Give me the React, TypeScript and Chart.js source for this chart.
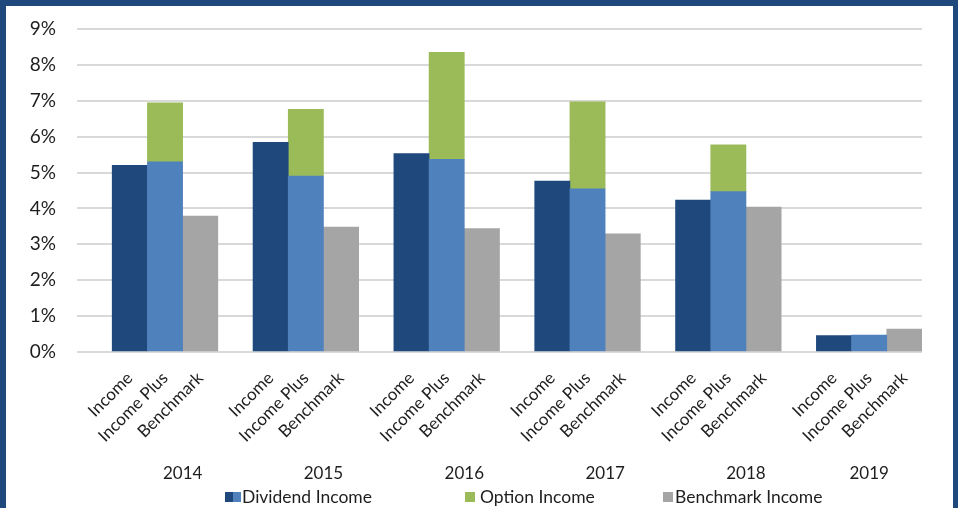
import React, { useEffect, useRef } from 'react';
import { Chart, registerables } from 'chart.js';

Chart.register(...registerables);

const years = ['2014', '2015', '2016', '2017', '2018', '2019'];
const subLabels = ['Income', 'Income Plus', 'Benchmark'];
const incomeDividend = [5.2, 5.84, 5.53, 4.76, 4.23, 0.46];
const plusDividend = [5.3, 4.9, 5.37, 4.55, 4.47, 0.47];
const plusOption = [1.64, 1.86, 2.98, 2.42, 1.3, 0];
const benchmark = [3.79, 3.48, 3.44, 3.29, 4.04, 0.64];
const yTickValues = [0, 1, 2, 3, 4, 5, 6, 7, 8, 9];

const DARK = '#1F497D';
const LIGHT = '#4F81BD';
const GREEN = '#9BBB59';
const GRAY = '#A5A5A5';
const TEXT = '#1E1E1E';
const FONT = 'Lato, "Open Sans", sans-serif';

// Slot layout: a leading blank, then each year's three bars followed by a blank (except the last year)
const slotLabels: string[] = [''];
const groupStart: number[] = [];
const groupEnd: number[] = [];
years.forEach((_, i) => {
  groupStart.push(slotLabels.length);
  slotLabels.push(...subLabels);
  if (i < years.length - 1) slotLabels.push('');
  groupEnd.push(slotLabels.length - 1);
});

function buildData() {
  const n = slotLabels.length;
  const div: (number | null)[] = new Array(n).fill(null);
  const divColors: string[] = new Array(n).fill(DARK);
  const opt: (number | null)[] = new Array(n).fill(null);
  const bench: (number | null)[] = new Array(n).fill(null);
  years.forEach((_, i) => {
    const b = groupStart[i];
    div[b] = incomeDividend[i];
    divColors[b] = DARK;
    div[b + 1] = plusDividend[i];
    divColors[b + 1] = LIGHT;
    opt[b + 1] = plusOption[i] > 0 ? plusOption[i] : null;
    bench[b + 2] = benchmark[i];
  });
  return { div, divColors, opt, bench };
}

const yearLabelPlugin = {
  id: 'yearLabels',
  afterDraw(chart: any) {
    const xs = chart.scales.x;
    const ctx = chart.ctx;
    ctx.save();
    ctx.font = `17px ${FONT}`;
    ctx.fillStyle = TEXT;
    ctx.textAlign = 'center';
    ctx.textBaseline = 'middle';
    years.forEach((y, i) => {
      const x = (xs.getPixelForTick(groupStart[i]) + xs.getPixelForTick(groupEnd[i])) / 2;
      ctx.fillText(y, x, chart.chartArea.bottom + 122);
    });
    ctx.restore();
  },
};

export default function App() {
  const ref = useRef<HTMLCanvasElement | null>(null);

  useEffect(() => {
    document.body.style.margin = '0';
    if (!ref.current) return;
    const d = buildData();
    const chart = new Chart(ref.current, {
      type: 'bar',
      data: {
        labels: slotLabels,
        datasets: [
          { label: 'Dividend Income', data: d.div, backgroundColor: d.divColors, borderWidth: 0 },
          { label: 'Option Income', data: d.opt, backgroundColor: GREEN, borderWidth: 0 },
          { label: 'Benchmark Income', data: d.bench, backgroundColor: GRAY, borderWidth: 0 },
        ],
      },
      options: {
        animation: false,
        responsive: false,
        devicePixelRatio: 1,
        barPercentage: 1,
        categoryPercentage: 1,
        layout: { padding: { top: 29, right: 40, bottom: 0, left: 0 } },
        plugins: { legend: { display: false }, tooltip: { enabled: false } },
        scales: {
          x: {
            stacked: true,
            grid: { display: false, drawTicks: false },
            border: { display: false },
            ticks: {
              autoSkip: false,
              maxRotation: 45,
              minRotation: 45,
              padding: 16,
              color: TEXT,
              font: { family: FONT, size: 17 },
            },
            afterFit: (s: any) => {
              s.height = 156;
            },
          },
          y: {
            stacked: true,
            min: 0,
            max: 9,
            afterBuildTicks: (s: any) => {
              s.ticks = yTickValues.map((v) => ({ value: v }));
            },
            grid: { color: '#D9D9D9', lineWidth: 2, drawTicks: false },
            border: { display: false },
            ticks: {
              padding: 21,
              color: TEXT,
              font: { family: FONT, size: 19 },
              callback: (v: any) => `${v}%`,
            },
            afterFit: (s: any) => {
              s.width = 77;
              s.paddingTop = 0;
              s.paddingBottom = 0;
            },
          },
        },
      },
      plugins: [yearLabelPlugin],
    });
    return () => chart.destroy();
  }, []);

  const legendText: React.CSSProperties = {
    position: 'absolute',
    top: 487,
    height: 20,
    lineHeight: '20px',
    fontFamily: FONT,
    fontSize: 17.5,
    color: TEXT,
    whiteSpace: 'nowrap',
  };
  const sw = (left: number, color: string, width: number): React.CSSProperties => ({
    position: 'absolute',
    left,
    top: 492,
    width,
    height: 10,
    background: color,
  });

  return (
    <div style={{ position: 'relative', width: 962, height: 508, overflow: 'hidden', background: '#fff' }}>
      <div
        style={{
          position: 'absolute',
          left: 0,
          top: 0,
          width: 958,
          height: 508,
          boxSizing: 'border-box',
          borderTop: `6px solid ${DARK}`,
          borderLeft: `6px solid ${DARK}`,
          borderRight: `5px solid ${DARK}`,
        }}
      />
      <canvas ref={ref} width={962} height={508} style={{ position: 'absolute', left: 0, top: 0, width: 962, height: 508 }} />
      <div style={sw(225, DARK, 8)} />
      <div style={sw(233, LIGHT, 8)} />
      <div style={{ ...legendText, left: 242 }}>Dividend Income</div>
      <div style={sw(465, GREEN, 10)} />
      <div style={{ ...legendText, left: 480 }}>Option Income</div>
      <div style={sw(663, GRAY, 10)} />
      <div style={{ ...legendText, left: 675 }}>Benchmark Income</div>
    </div>
  );
}
